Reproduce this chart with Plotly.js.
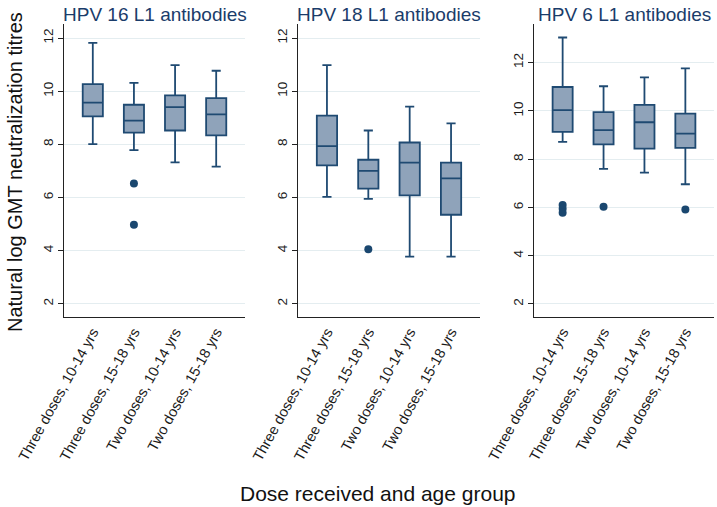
<!DOCTYPE html>
<html>
<head>
<meta charset="utf-8">
<script src="https://cdn.plot.ly/plotly-3.0.1.min.js"></script>
<style>html,body{margin:0;padding:0;background:#fff;}#chart{width:717px;height:507px;}</style>
</head>
<body>
<div id="chart"></div>
<script>
const categories = ["Three doses, 10-14 yrs", "Three doses, 15-18 yrs", "Two doses, 10-14 yrs", "Two doses, 15-18 yrs"];
const panelTitles = ["HPV 16 L1 antibodies", "HPV 18 L1 antibodies", "HPV 6 L1 antibodies"];

const hpv16_lower  = [8.01, 7.78, 7.32, 7.16];
const hpv16_q1     = [9.05, 8.44, 8.52, 8.34];
const hpv16_median = [9.57, 8.89, 9.40, 9.13];
const hpv16_q3     = [10.27, 9.49, 9.84, 9.74];
const hpv16_upper  = [11.82, 10.31, 10.98, 10.77];
const hpv16_outX   = ["Three doses, 15-18 yrs", "Three doses, 15-18 yrs"];
const hpv16_outY   = [6.53, 4.97];

const hpv18_lower  = [6.02, 5.95, 3.77, 3.77];
const hpv18_q1     = [7.21, 6.33, 6.08, 5.35];
const hpv18_median = [7.93, 7.00, 7.31, 6.72];
const hpv18_q3     = [9.08, 7.42, 8.07, 7.31];
const hpv18_upper  = [10.98, 8.52, 9.42, 8.79];
const hpv18_outX   = ["Three doses, 15-18 yrs"];
const hpv18_outY   = [4.05];

const hpv6_lower  = [8.72, 7.60, 7.44, 6.96];
const hpv6_q1     = [9.13, 8.61, 8.44, 8.47];
const hpv6_median = [10.03, 9.20, 9.53, 9.06];
const hpv6_q3     = [10.99, 9.95, 10.25, 9.89];
const hpv6_upper  = [13.04, 11.02, 11.39, 11.76];
const hpv6_outX   = ["Three doses, 10-14 yrs", "Three doses, 10-14 yrs", "Three doses, 10-14 yrs", "Three doses, 15-18 yrs", "Two doses, 15-18 yrs"];
const hpv6_outY   = [6.10, 5.95, 5.78, 6.03, 5.91];

const yTicks12 = [2, 4, 6, 8, 10, 12];

const lineCol = '#1f4a72';
const fillCol = '#8fa3ba';
const dotCol = '#1a476f';
const font = 'Liberation Sans, Arial, sans-serif';

const panels = [
  {lo: hpv16_lower, q1: hpv16_q1, md: hpv16_median, q3: hpv16_q3, hi: hpv16_upper, ox: hpv16_outX, oy: hpv16_outY},
  {lo: hpv18_lower, q1: hpv18_q1, md: hpv18_median, q3: hpv18_q3, hi: hpv18_upper, ox: hpv18_outX, oy: hpv18_outY},
  {lo: hpv6_lower, q1: hpv6_q1, md: hpv6_median, q3: hpv6_q3, hi: hpv6_upper, ox: hpv6_outX, oy: hpv6_outY}
];

const W = 717, H = 507;
const xDomPx = [[64, 245], [298, 480], [534, 714]];
const yDom = [(H - 317) / H, (H - 24) / H];
const yRanges = [[1.5, 12.53], [1.5, 12.53], [1.46, 13.6]];

const traces = [];
const layout = {
  width: W, height: H,
  margin: {l: 0, r: 0, t: 0, b: 0},
  paper_bgcolor: '#fff', plot_bgcolor: '#fff',
  showlegend: false,
  font: {family: font, color: '#1a1a1a'},
  annotations: []
};

panels.forEach((p, i) => {
  const xa = i === 0 ? 'x' : 'x' + (i + 1);
  const ya = i === 0 ? 'y' : 'y' + (i + 1);
  traces.push({
    type: 'box', xaxis: xa, yaxis: ya,
    x: categories,
    lowerfence: p.lo, q1: p.q1, median: p.md, q3: p.q3, upperfence: p.hi,
    boxpoints: false,
    width: 0.49,
    whiskerwidth: 0.45,
    fillcolor: fillCol,
    line: {color: lineCol, width: 1.8},
    hoverinfo: 'skip'
  });
  traces.push({
    type: 'scatter', mode: 'markers', xaxis: xa, yaxis: ya,
    x: p.ox, y: p.oy,
    marker: {color: dotCol, size: 8},
    hoverinfo: 'skip'
  });
  const xkey = i === 0 ? 'xaxis' : 'xaxis' + (i + 1);
  const ykey = i === 0 ? 'yaxis' : 'yaxis' + (i + 1);
  layout[xkey] = {
    domain: [xDomPx[i][0] / W, xDomPx[i][1] / W],
    anchor: ya,
    type: 'category',
    categoryorder: 'array', categoryarray: categories,
    range: [-0.7, 3.7],
    showline: true, linecolor: '#222', linewidth: 1,
    showgrid: false, zeroline: false,
    ticks: '', tickangle: -61,
    tickfont: {family: font, size: 14.5, color: '#1a1a1a'}
  };
  layout[ykey] = {
    domain: yDom,
    anchor: xa,
    range: yRanges[i],
    tickvals: yTicks12,
    ticktext: yTicks12.map(String),
    showline: true, linecolor: '#222', linewidth: 1,
    showgrid: true, gridcolor: '#e4edf0', gridwidth: 1,
    zeroline: false,
    ticks: 'outside', ticklen: 5, tickcolor: '#222',
    tickangle: -90,
    tickfont: {family: font, size: 13.5, color: '#1a1a1a'}
  };
  layout.annotations.push({
    text: panelTitles[i], xref: 'paper', yref: 'paper',
    x: (xDomPx[i][0] + xDomPx[i][1]) / 2 / W, y: 1 - 2 / H,
    xanchor: 'center', yanchor: 'top', showarrow: false,
    font: {family: font, size: 19, color: '#1a3c6a'}
  });
});

layout.annotations.push({
  text: 'Natural log GMT neutralization titres', xref: 'paper', yref: 'paper',
  x: 15 / W, y: (H - 172) / H, xanchor: 'center', yanchor: 'middle',
  textangle: -90, showarrow: false,
  font: {family: font, size: 20, color: '#111'}
});
layout.annotations.push({
  text: 'Dose received and age group', xref: 'paper', yref: 'paper',
  x: 378 / W, y: (H - 493) / H, xanchor: 'center', yanchor: 'middle',
  showarrow: false,
  font: {family: font, size: 21, color: '#111'}
});

Plotly.newPlot('chart', traces, layout, {displayModeBar: false, staticPlot: true});
</script>
</body>
</html>
